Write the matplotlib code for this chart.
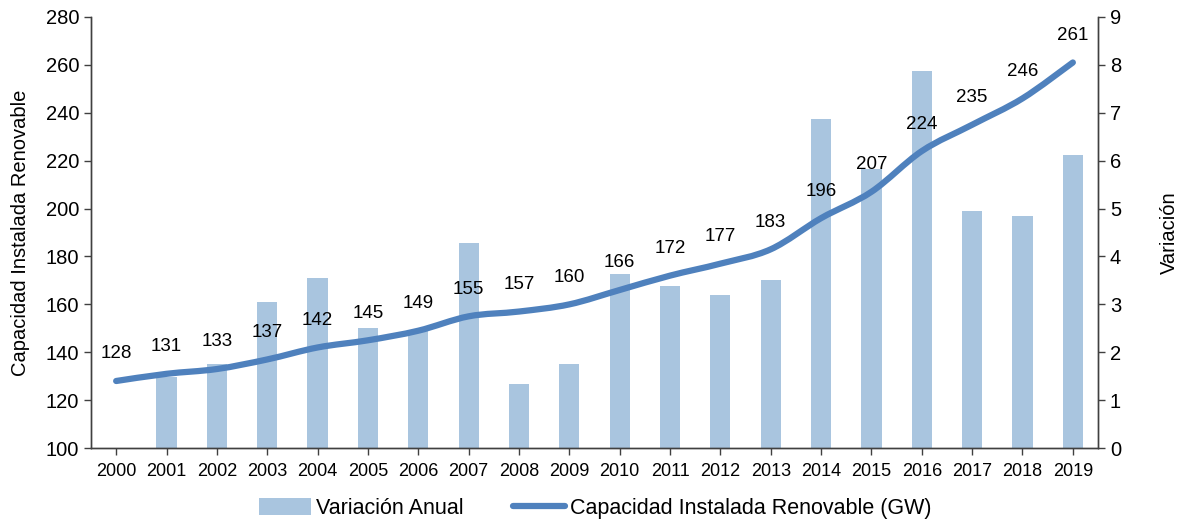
import numpy as np
import matplotlib
matplotlib.use("Agg")
import matplotlib.pyplot as plt
from matplotlib.path import Path
from matplotlib.patches import PathPatch
from matplotlib.lines import Line2D
from matplotlib.patches import Patch

plt.rcParams["font.family"] = ["Liberation Sans", "DejaVu Sans"]

years = [str(y) for y in range(2000, 2020)]
capacidad = [128, 131, 133, 137, 142, 145, 149, 155, 157, 160,
             166, 172, 177, 183, 196, 207, 224, 235, 246, 261]
variacion = [0, 1.49, 1.76, 3.04, 3.56, 2.5, 2.45, 4.29, 1.34, 1.75,
             3.64, 3.39, 3.19, 3.51, 6.87, 5.83, 7.88, 4.95, 4.85, 6.12]

LINE_COLOR = "#4F81BD"
BAR_COLOR = "#A9C5DF"


def smooth_path(xs, ys, tension=1 / 6):
    # Catmull-Rom style bezier through the points (like Excel's smoothed line)
    pts = np.column_stack([xs, ys]).astype(float)
    verts = [pts[0]]
    codes = [Path.MOVETO]
    n = len(pts)
    for i in range(n - 1):
        p0 = pts[i - 1] if i > 0 else pts[i]
        p1 = pts[i]
        p2 = pts[i + 1]
        p3 = pts[i + 2] if i + 2 < n else pts[i + 1]
        c1 = p1 + (p2 - p0) * tension
        c2 = p2 - (p3 - p1) * tension
        verts += [c1, c2, p2]
        codes += [Path.CURVE4] * 3
    return Path(verts, codes)


fig = plt.figure(figsize=(11.77, 5.21), dpi=100)
ax = fig.add_axes([0.0773, 0.140, 0.8556, 0.8274])
ax2 = ax.twinx()

x = np.arange(len(years))

# bars on the right-hand axis
ax2.bar(x, variacion, width=0.4, color=BAR_COLOR, zorder=1)
ax2.set_ylim(0, 9)
ax2.set_yticks(range(0, 10))
ax2.set_ylabel("Variación", fontsize=14.5, labelpad=28)

# smoothed line on the left-hand axis, drawn above the bars
ax.set_zorder(ax2.get_zorder() + 1)
ax.patch.set_visible(False)
ax.add_patch(PathPatch(smooth_path(x, capacidad), facecolor="none",
                       edgecolor=LINE_COLOR, lw=4.5, capstyle="round",
                       joinstyle="round"))
for xi, v in zip(x, capacidad):
    ax.annotate(str(v), (xi, v), xytext=(0, 19.5), textcoords="offset points",
                ha="center", va="center", fontsize=13.5)

ax.set_xlim(-0.5, len(years) - 0.5)
ax.set_ylim(100, 280)
ax.set_yticks(range(100, 281, 20))
ax.set_xticks(x)
ax.set_xticklabels(years)
ax.set_ylabel("Capacidad Instalada Renovable", fontsize=14.5, labelpad=11)

for a in (ax, ax2):
    a.spines["top"].set_visible(False)
    for s in a.spines.values():
        s.set_color("#404040")
        s.set_linewidth(1)
    a.tick_params(colors="#404040", labelcolor="black", length=5, width=1)
ax.tick_params(axis="y", labelsize=14.5)
ax.tick_params(axis="x", labelsize=13, pad=6)
ax2.tick_params(axis="y", labelsize=14.5)

handles = [Patch(facecolor=BAR_COLOR, edgecolor="none"),
           Line2D([0], [0], color=LINE_COLOR, lw=4.5, solid_capstyle="round")]
fig.legend(handles, ["Variación Anual", "Capacidad Instalada Renovable (GW)"],
           loc="center", bbox_to_anchor=(0.506, 0.024), ncol=2, frameon=False,
           fontsize=15.5, handlelength=2.4, handleheight=0.8, columnspacing=2.3,
           handletextpad=0.25)

fig.savefig("out.png", dpi=100)
